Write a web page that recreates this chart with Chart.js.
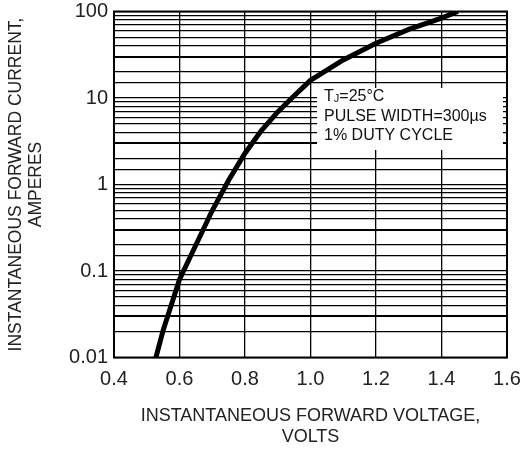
<!DOCTYPE html>
<html>
<head>
<meta charset="utf-8">
<script src="https://cdn.jsdelivr.net/npm/chart.js@4.4.0/dist/chart.umd.min.js"></script>
<style>
  html, body { margin: 0; padding: 0; background: #fff; }
  #wrap { width: 526px; height: 451px; }
</style>
</head>
<body>
<div id="wrap"><canvas id="canvas"></canvas></div>
<script>
  // forward characteristic
  var voltage = [0.528, 0.55, 0.6, 0.65, 0.7, 0.75, 0.8, 0.85, 0.9, 0.943, 1.0, 1.1, 1.2, 1.3, 1.4, 1.45];
  var current = [0.01, 0.0206, 0.08, 0.2, 0.5, 1.12, 2.3, 4.2, 6.9, 10, 16, 27.5, 43, 62, 84, 100];
  var xTicks = [0.4, 0.6, 0.8, 1.0, 1.2, 1.4, 1.6];
  var yTicks = [0.01, 0.1, 1, 10, 100];
  var noteLines = ['PULSE WIDTH=300\u00b5s', '1% DUTY CYCLE'];

  var FONT = "'Liberation Sans', Arial, sans-serif";

  var points = voltage.map(function (v, i) { return { x: v, y: current[i] }; });

  function significand(v) {
    var p = Math.pow(10, Math.floor(Math.log10(v) + 1e-9));
    return Math.round(v / p);
  }

  // white note box with test conditions, then the outer frame
  var notePlugin = {
    id: 'note',
    beforeDatasetsDraw: function (chart) {
      var ctx = chart.ctx;
      var x = chart.scales.x, y = chart.scales.y;
      ctx.save();
      ctx.fillStyle = '#fff';
      var left = x.getPixelForValue(1.02), top = y.getPixelForValue(10) - 10;
      ctx.fillRect(left, top, chart.chartArea.right - 4 - left, 62);
      ctx.fillStyle = '#111';
      ctx.textBaseline = 'middle';
      ctx.font = '16px ' + FONT;
      var tx = left + 7, ty = top + 9;
      ctx.fillText('T', tx, ty);
      var w = ctx.measureText('T').width;
      ctx.font = '11px ' + FONT;
      ctx.fillText('J', tx + w, ty + 2);
      var w2 = ctx.measureText('J').width;
      ctx.font = '16px ' + FONT;
      ctx.fillText('=25\u00b0C', tx + w + w2, ty);
      noteLines.forEach(function (t, i) {
        ctx.fillText(t, tx, ty + 19.5 * (i + 1));
      });
      ctx.restore();
    },
    afterDraw: function (chart) {
      var a = chart.chartArea, ctx = chart.ctx;
      ctx.save();
      ctx.strokeStyle = '#000';
      ctx.lineWidth = 2;
      ctx.strokeRect(a.left, a.top, a.right - a.left, a.bottom - a.top);
      ctx.restore();
    }
  };

  window.onload = function () {
    var ctx = document.getElementById('canvas').getContext('2d');
    window.myChart = new Chart(ctx, {
      type: 'line',
      data: {
        datasets: [{
          data: points,
          borderColor: '#000',
          borderWidth: 5,
          pointRadius: 0,
          tension: 0,
          fill: false
        }]
      },
      options: {
        responsive: true,
        maintainAspectRatio: false,
        animation: false,
        layout: { padding: { top: 11.5, right: 19, left: 0, bottom: 0 } },
        plugins: { legend: { display: false }, tooltip: { enabled: false } },
        scales: {
          x: {
            type: 'linear',
            min: 0.4, max: 1.6,
            afterBuildTicks: function (s) { s.ticks = xTicks.map(function (v) { return { value: v }; }); },
            afterFit: function (s) { s.height = 93.5; s.paddingLeft = 0; s.paddingRight = 0; },
            grid: { color: '#000', lineWidth: 1.3, drawTicks: false },
            border: { display: false },
            ticks: {
              padding: 10,
              color: '#222',
              font: { family: FONT, size: 20 },
              callback: function (v) { return v.toFixed(1); }
            },
            title: {
              display: true,
              text: ['INSTANTANEOUS FORWARD VOLTAGE,', 'VOLTS'],
              color: '#222',
              font: { family: FONT, size: 18, lineHeight: 1.15 },
              padding: { top: 0, bottom: 4 }
            }
          },
          y: {
            type: 'logarithmic',
            min: 0.01, max: 100,
            afterFit: function (s) { s.width = 114; s.paddingTop = 0; s.paddingBottom = 0; },
            grid: {
              color: '#000',
              drawTicks: false,
              lineWidth: function (c) { return significand(c.tick.value) === 3 ? 2 : 1.2; }
            },
            border: { display: false },
            ticks: {
              autoSkip: false,
              padding: 6,
              color: '#222',
              font: { family: FONT, size: 20 },
              callback: function (v) { return yTicks.indexOf(v) >= 0 ? String(v) : ''; }
            },
            title: {
              display: true,
              text: ['INSTANTANEOUS FORWARD CURRENT,', 'AMPERES'],
              color: '#222',
              font: { family: FONT, size: 17.5, lineHeight: 1.1 },
              padding: { top: 7, bottom: 0 }
            }
          }
        }
      },
      plugins: [notePlugin]
    });
  };
</script>
</body>
</html>
